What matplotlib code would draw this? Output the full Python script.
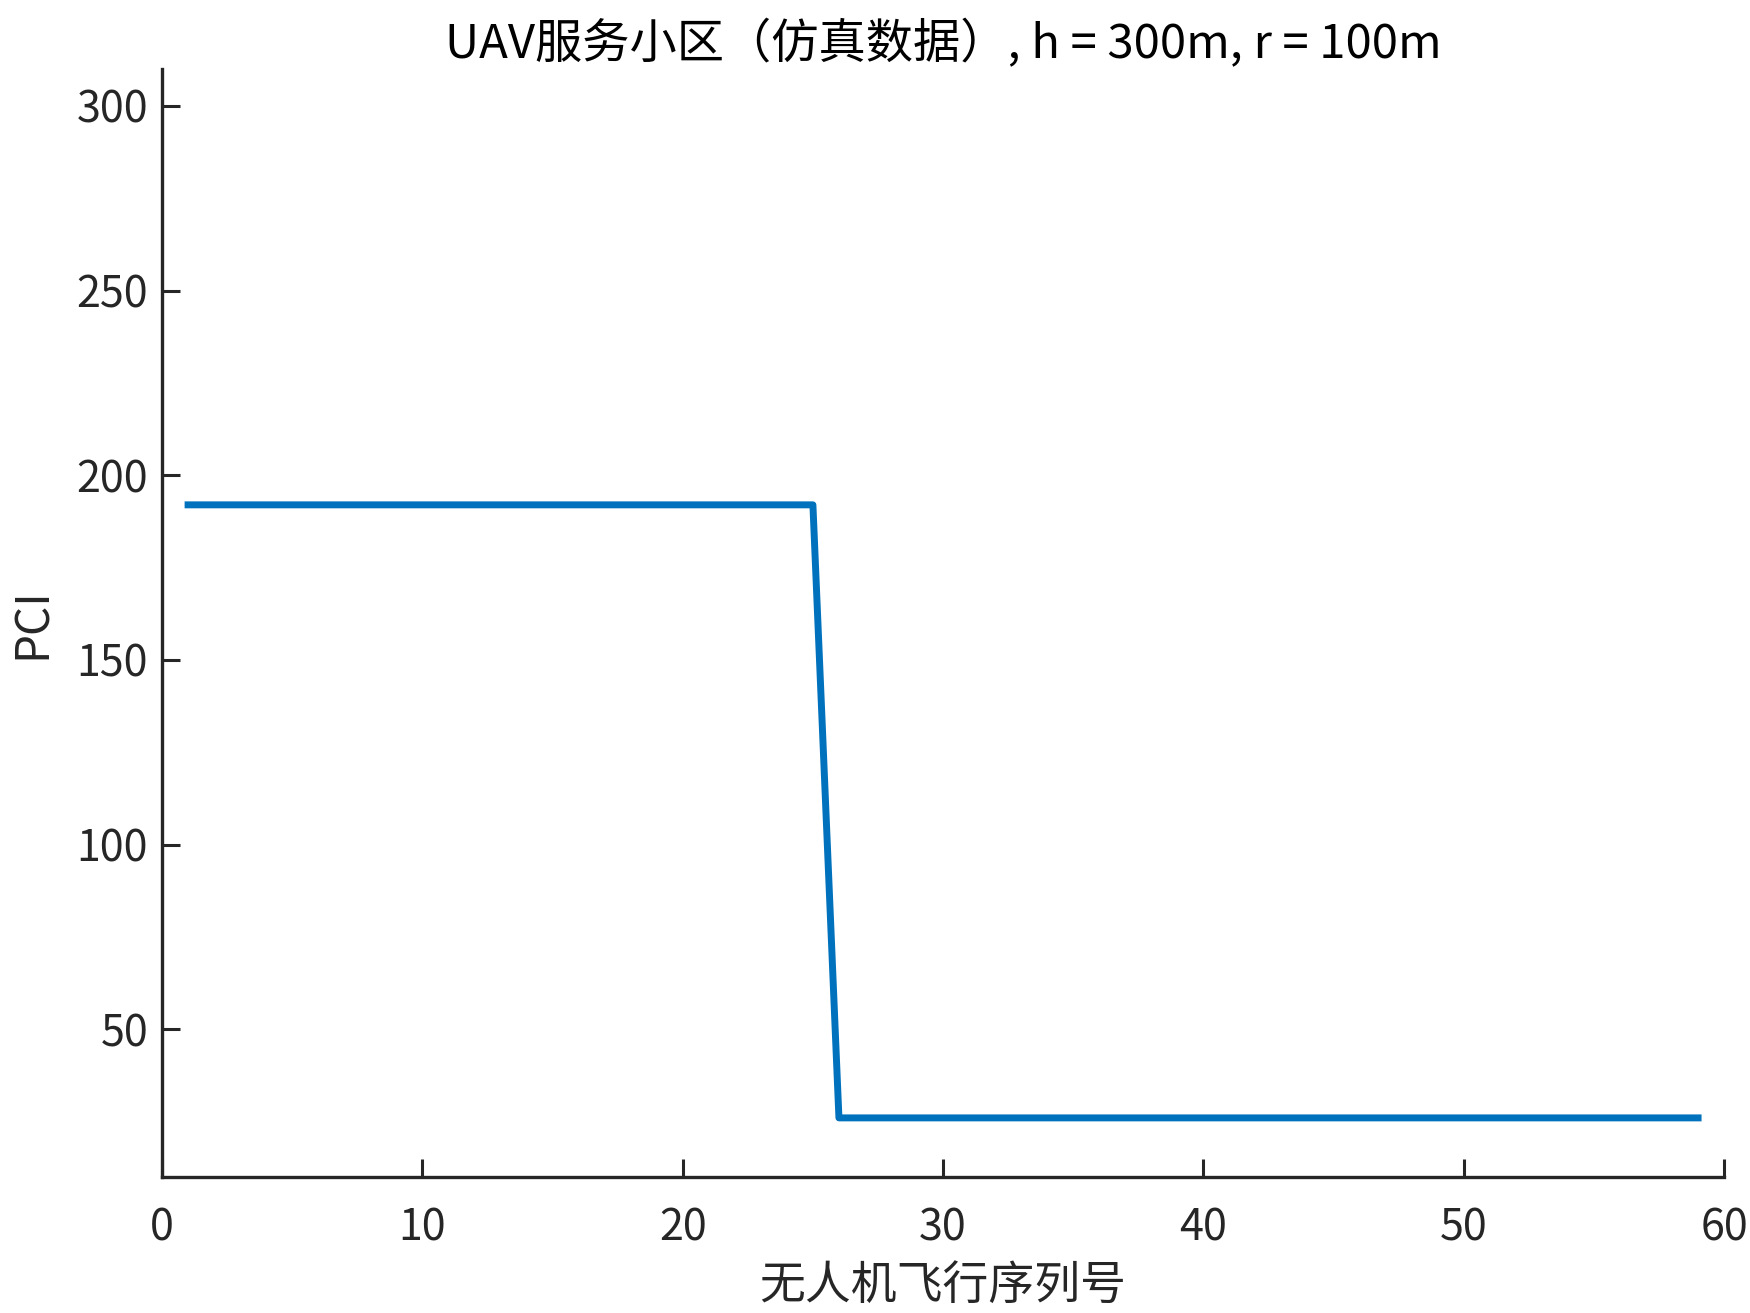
import numpy as np
import matplotlib
matplotlib.use('Agg')
import matplotlib.pyplot as plt

plt.rcParams['font.family'] = ['Noto Sans CJK SC', 'DejaVu Sans']

# flight sequence numbers and serving cell PCI
seq = list(range(1, 60))
pci = [192] * 25 + [26] * 34

title = 'UAV服务小区（仿真数据）, h = 300m, r = 100m'
dark = '#262626'

fig = plt.figure(figsize=(17.5, 13.13), dpi=100)
ax = fig.add_axes([0.0926, 0.1036, 0.8926, 0.8438])

ax.plot(seq, pci, color='#0072BD', linewidth=5)

ax.set_xlim(0, 60)
ax.set_ylim(10, 310)
ax.set_xticks(np.arange(0, 61, 10))
ax.set_yticks(np.arange(50, 301, 50))

for s in ['top', 'right']:
    ax.spines[s].set_visible(False)
for s in ['left', 'bottom']:
    ax.spines[s].set_linewidth(2.4)
    ax.spines[s].set_color(dark)

ax.tick_params(direction='in', length=13, width=2.2, colors=dark, labelsize=31)
ax.tick_params(axis='x', pad=21)
ax.tick_params(axis='y', pad=10)

ax.set_xlabel('无人机飞行序列号', fontsize=33, color=dark, labelpad=8)
ax.set_ylabel('PCI', fontsize=33, color=dark, labelpad=14)
ax.set_title(title, fontsize=34, color='black', pad=6)

fig.savefig('out.png', dpi=100)
